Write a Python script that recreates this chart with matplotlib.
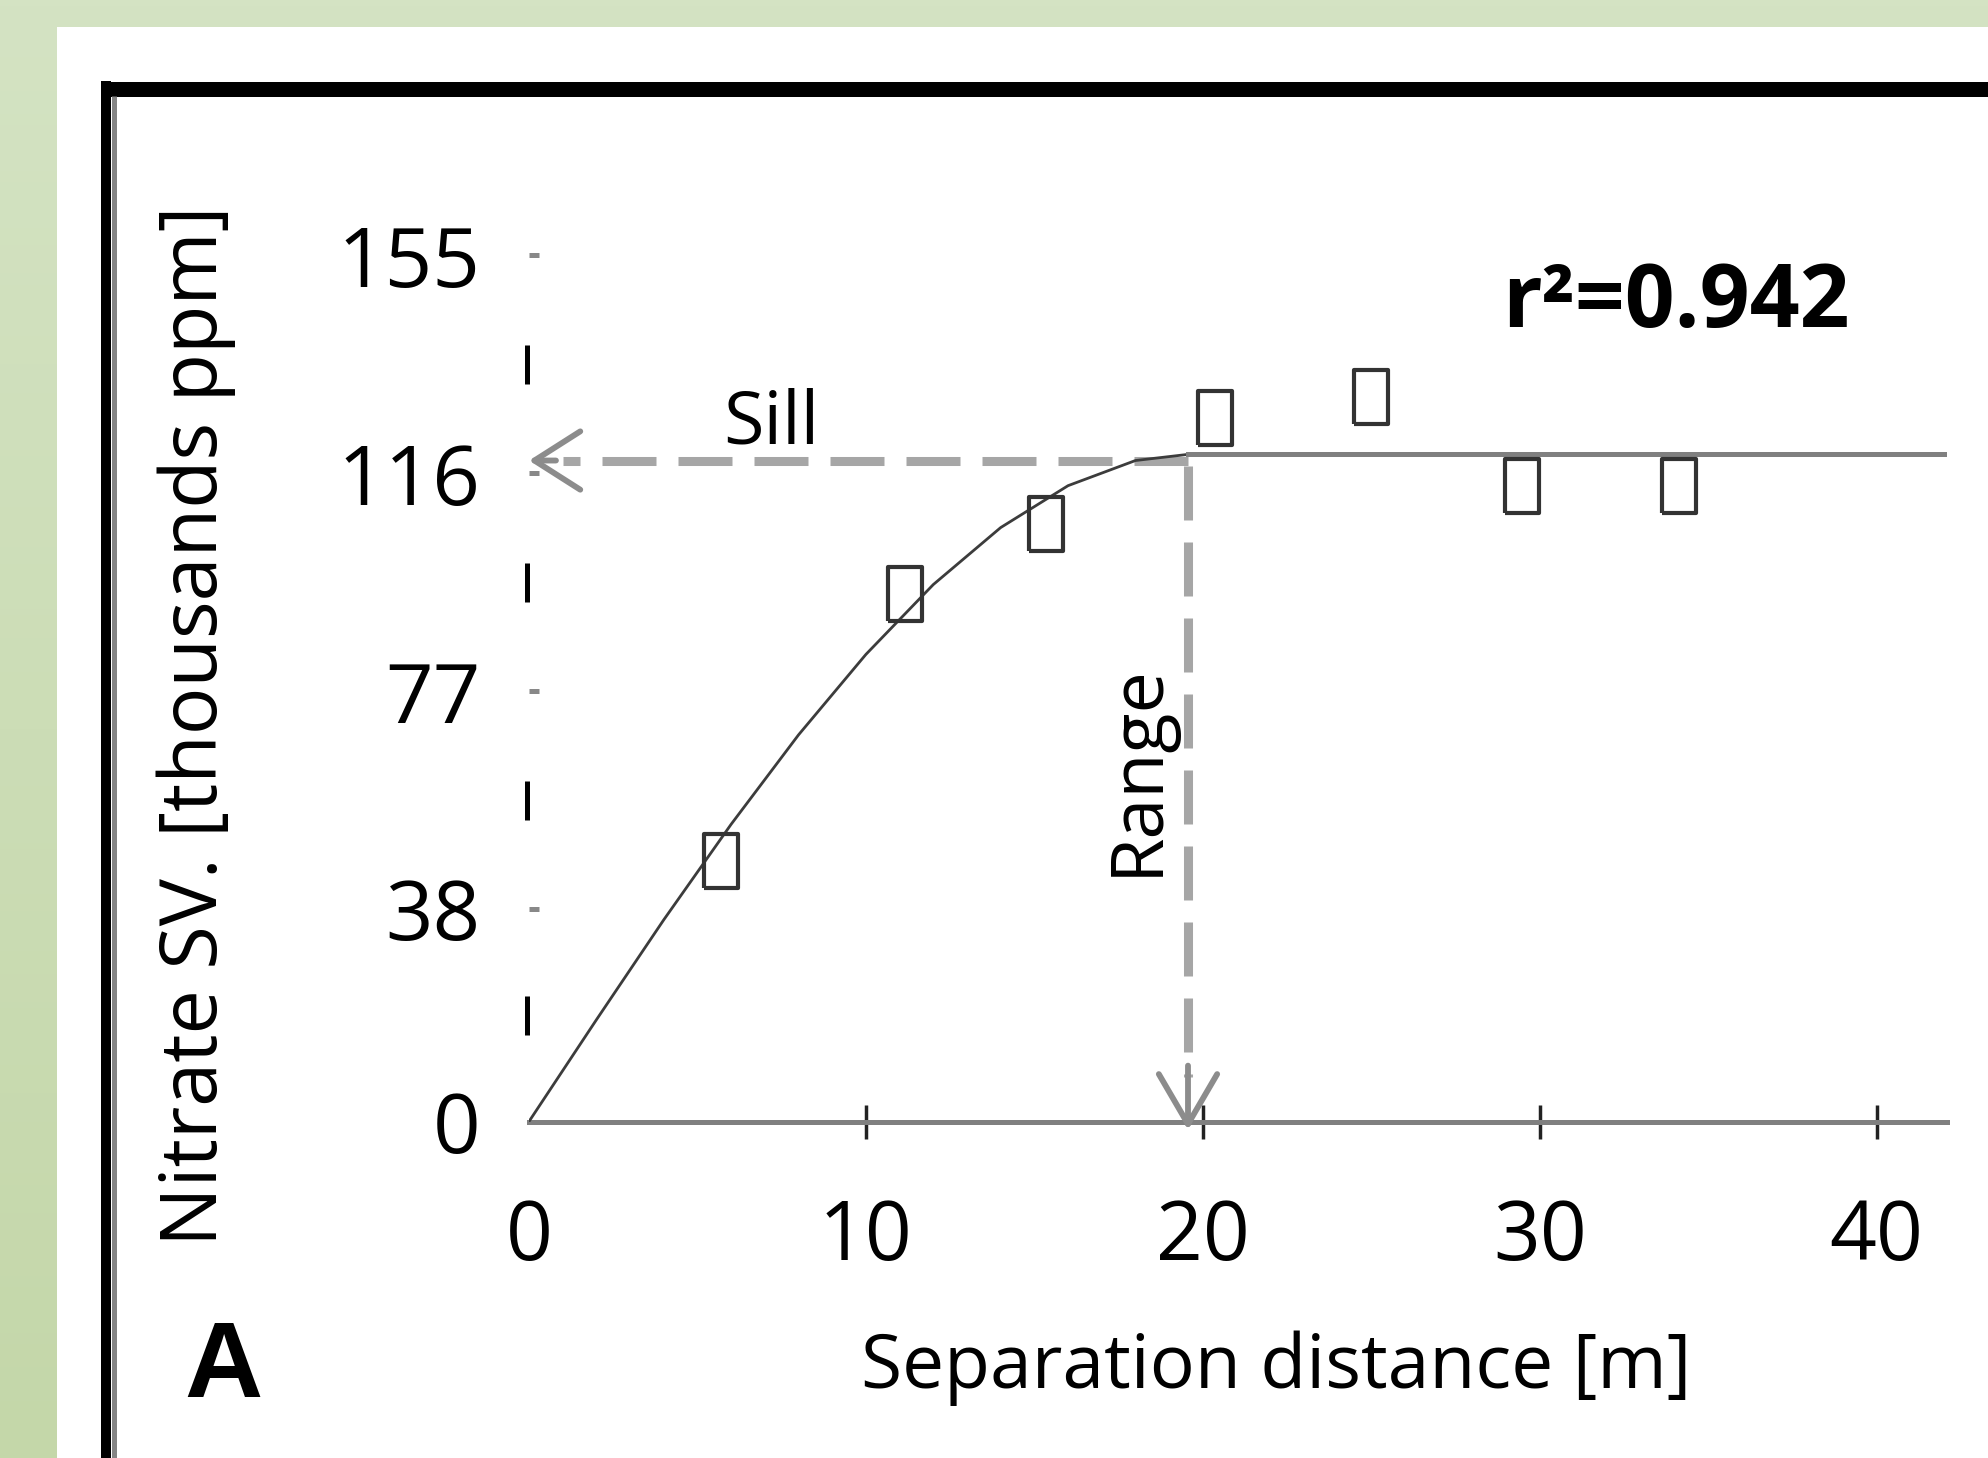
import numpy as np
import matplotlib
matplotlib.use('Agg')
from matplotlib import pyplot as plt
from matplotlib.lines import Line2D
from matplotlib.patches import Rectangle
from matplotlib.colors import LinearSegmentedColormap

plt.rcParams['font.family'] = 'Open Sans'

lag = [5.70, 11.17, 15.35, 20.36, 24.98, 29.46, 34.13]
semivar = [46.7, 94.5, 107.0, 125.9, 129.7, 113.8, 113.8]

# fitted model curve
model_x = [0, 2, 4, 6, 8, 10, 12, 14, 16, 18, 19.56]
model_y = [0, 18.2, 36.1, 53.2, 69.2, 83.6, 96.1, 106.3, 113.8, 118.3, 119.4]
sill = 119.4
sill_arrow_y = 118.3
range_x = 19.56
x_end = 42.1

xticks = [0, 10, 20, 30, 40]
yticks = [0, 38, 77, 116, 155]
r2 = 0.942

W, H = 1988, 1458
fig = plt.figure(figsize=(W / 100, H / 100), dpi=100)

# green border with a slight vertical gradient
bg = fig.add_axes([0, 0, 1, 1], zorder=-10)
grad = np.linspace(0, 1, 256).reshape(-1, 1)
bg.imshow(grad, aspect='auto', extent=[0, 1, 0, 1],
          cmap=LinearSegmentedColormap.from_list('g', ['#d4e3c3', '#c4d7a9']))
bg.set_axis_off()
fig.add_artist(Rectangle((57 / W, -0.01), 1.0, 1.01 - 27 / H, transform=fig.transFigure,
                         facecolor='white', edgecolor='none', zorder=-5))

# black frame (top + left), runs off the picture
fig.add_artist(Line2D([101 / W, 1.01], [1 - 88.5 / H] * 2, color='black', lw=15 * 0.72,
                      solid_capstyle='butt'))
fig.add_artist(Line2D([106 / W] * 2, [1 - 81 / H, -0.01], color='black', lw=10 * 0.72,
                      solid_capstyle='butt'))
fig.add_artist(Line2D([113.5 / W] * 2, [1 - 96 / H, -0.01], color='#858585', lw=5 * 0.72,
                      solid_capstyle='butt'))

ax = fig.add_axes([529 / W, 1 - 1121.5 / H, 1418.4 / W, 921.9 / H])
ax.patch.set_visible(False)
ax.set_xlim(0, x_end)
ax.set_ylim(0, 165)
for s in ['top', 'right', 'left']:
    ax.spines[s].set_visible(False)
ax.spines['bottom'].set_color('#808080')
ax.spines['bottom'].set_linewidth(3.6)

ax.set_xticks(xticks)
ax.set_xticklabels([str(v) for v in xticks])
ax.tick_params(axis='x', direction='inout', length=24, width=2.5, color='#222222',
               pad=43, labelsize=59)
ax.xaxis.get_major_ticks()[0].tick1line.set_visible(False)
ax.set_yticks(yticks)
ax.set_yticklabels([str(v) for v in yticks])
ax.tick_params(axis='y', direction='in', length=7, width=3.6, color='#888888',
               pad=35, labelsize=60)

# dashed y axis: short pieces between the ticks
for lo, hi in zip(yticks[:-1], yticks[1:]):
    mid = (lo + hi) / 2
    ax.plot([-0.07, -0.07], [mid - 3.5, mid + 3.5], color='black', lw=3.6,
            solid_capstyle='butt', clip_on=False)

# model
ax.plot(model_x, model_y, color='#3c3c3c', lw=2.0, zorder=3)
ax.plot([range_x, x_end], [sill, sill], color='#808080', lw=3.6, zorder=3)

# sill and range arrows
dash = (0, (54 * 0.72 / 6.5, 22 * 0.72 / 6.5))
ax.plot([range_x, 1.0], [sill_arrow_y, sill_arrow_y], color='#a6a6a6', lw=6.5,
        linestyle=dash, solid_capstyle='butt', zorder=2)
ax.plot([range_x, range_x], [sill_arrow_y - 1.0, 8], color='#a6a6a6', lw=6.5,
        linestyle=dash, solid_capstyle='butt', zorder=2)
head = dict(arrowstyle='->,head_length=33,head_width=21', color='#8c8c8c', lw=4.2,
            mutation_scale=1, shrinkA=0, shrinkB=0)
ax.annotate('', xy=(0, sill_arrow_y), xytext=(0.8, sill_arrow_y), arrowprops=head,
            annotation_clip=False)
head_v = dict(head, arrowstyle='->,head_length=36,head_width=21')
ax.annotate('', xy=(range_x, -1.5), xytext=(range_x, 10), arrowprops=head_v,
            annotation_clip=False)

# data points: hollow upright rectangles
box = [(-0.324, -0.5), (0.324, -0.5), (0.324, 0.5), (-0.324, 0.5), (-0.324, -0.5)]
ax.plot(lag, semivar, linestyle='none', marker=box, markersize=54 * 0.72,
        markerfacecolor='none', markeredgecolor='#333333', markeredgewidth=3.0,
        clip_on=False, zorder=4)

ax.text(5.76, 121.3, 'Sill', fontsize=53, ha='left', va='baseline')
ax.text(18.08, 62.9, 'Range', rotation=90, fontsize=53, ha='center', va='center')
ax.text(28.88, 142.2, 'r²=%.3f' % r2, fontsize=63, fontweight='bold',
        ha='left', va='baseline')

fig.text(1276 / W, 1 - 1388 / H, 'Separation distance [m]', fontsize=54,
         ha='center', va='baseline')
fig.text(196 / W, 1 - 726 / H, 'Nitrate SV. [thousands ppm]', fontsize=57,
         rotation=90, ha='center', va='center')
fig.text(223 / W, 1 - 1397 / H, 'A', fontsize=78, fontweight='bold',
         family='Liberation Sans', ha='center', va='baseline')

fig.savefig('out.png', dpi=100)
